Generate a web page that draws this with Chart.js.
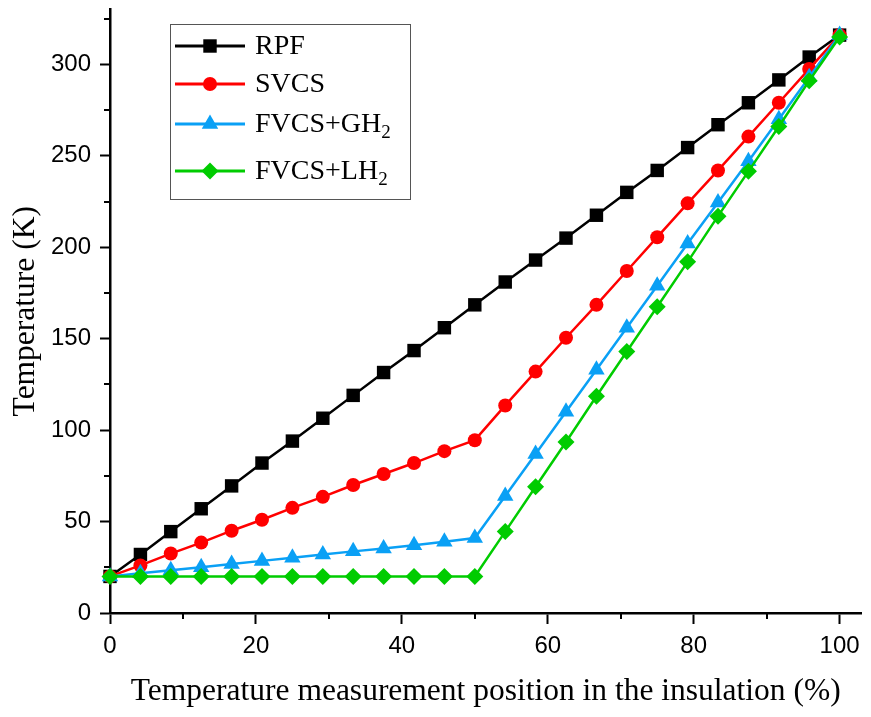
<!DOCTYPE html>
<html>
<head>
<meta charset="utf-8">
<script src="https://cdn.jsdelivr.net/npm/chart.js@4"></script>
<style>
  html, body { margin: 0; padding: 0; background: #fff; }
  #wrap { width: 871px; height: 717px; position: relative; }
</style>
</head>
<body>
<div id="wrap"><canvas id="tempChart"></canvas></div>
<script>
// data
const positions = [0, 4.17, 8.33, 12.5, 16.67, 20.83, 25, 29.17, 33.33, 37.5, 41.67, 45.83,
  50, 54.17, 58.33, 62.5, 66.67, 70.83, 75, 79.17, 83.33, 87.5, 91.67, 95.83, 100];
const seriesNames = ["RPF", "SVCS", "FVCS+GH₂", "FVCS+LH₂"];
const rpf = [20, 32, 44.5, 57, 69.5, 82, 94, 106.5, 119, 131.5, 143.5, 156,
  168.5, 181, 193, 205, 217.5, 230, 242, 254.5, 267, 279, 291.5, 304, 316];
const svcs = [20, 26, 32.5, 38.5, 45, 51, 57.5, 63.5, 70, 76, 82, 88.5,
  94.5, 113.5, 132, 150.5, 168.5, 187, 205.5, 224, 242, 260.5, 279, 297.5, 316];
const fvcsGH2 = [20, 21.7, 23.4, 25, 26.8, 28.5, 30.2, 32, 33.7, 35.3, 37, 39,
  41, 64, 87, 110, 133, 156, 179, 202, 224.5, 247, 270, 293, 316];
const fvcsLH2 = [20, 20, 20, 20, 20, 20, 20, 20, 20, 20, 20, 20,
  20, 44.5, 69, 93.5, 118.5, 143, 167.5, 192, 217, 241.5, 266, 291, 315];
const xTicks = [0, 20, 40, 60, 80, 100];
const yTicks = [0, 50, 100, 150, 200, 250, 300];
const xMinor = [10, 30, 50, 70, 90];
const yMinor = [25, 75, 125, 175, 225, 275, 325];

const colors = ["#000000", "#ff0000", "#0aa0f5", "#00cc00"];
const styles = ["rect", "circle", "triangle", "rectRot"];
const radii = [9.5, 7, 9.5, 8.5];
const allSeries = [rpf, svcs, fvcsGH2, fvcsLH2];

const datasets = allSeries.map((vals, i) => ({
  label: seriesNames[i],
  data: vals.map((v, j) => ({ x: positions[j], y: v })),
  borderColor: colors[i],
  backgroundColor: colors[i],
  borderWidth: 2.5,
  pointStyle: styles[i],
  pointRadius: radii[i],
  pointBorderWidth: 0,
  pointBackgroundColor: colors[i],
  order: 3 - i,
  clip: false,
}));

// minor ticks, like the original plot
const minorTicks = {
  id: "minorTicks",
  afterDraw(chart) {
    const c = chart.ctx;
    const xs = chart.scales.x, ys = chart.scales.y;
    c.save();
    c.strokeStyle = "#000";
    c.lineWidth = 2;
    c.beginPath();
    xMinor.forEach(v => {
      const px = Math.round(xs.getPixelForValue(v));
      c.moveTo(px, chart.chartArea.bottom);
      c.lineTo(px, chart.chartArea.bottom + 6);
    });
    yMinor.forEach(v => {
      const py = Math.round(ys.getPixelForValue(v));
      c.moveTo(chart.chartArea.left, py);
      c.lineTo(chart.chartArea.left - 6, py);
    });
    c.stroke();
    c.restore();
  }
};

// legend box inside the plot, with subscripts
const boxLegend = {
  id: "boxLegend",
  afterDraw(chart) {
    const c = chart.ctx;
    const rows = [46, 84, 124, 171];
    c.save();
    c.strokeStyle = "#555";
    c.lineWidth = 1;
    c.fillStyle = "#fff";
    c.fillRect(170.5, 24.5, 240, 175);
    c.strokeRect(170.5, 24.5, 240, 175);
    chart.data.datasets.forEach((ds, i) => {
      const y = rows[i];
      c.strokeStyle = ds.borderColor;
      c.lineWidth = 3;
      c.beginPath();
      c.moveTo(175, y);
      c.lineTo(245, y);
      c.stroke();
      c.fillStyle = ds.borderColor;
      Chart.helpers.drawPoint(c, { pointStyle: ds.pointStyle, radius: ds.pointRadius, borderWidth: 0 }, 210, y);
      c.fillStyle = "#000";
      c.textBaseline = "middle";
      c.textAlign = "left";
      let label = ds.label;
      let sub = "";
      if (label.endsWith("₂")) { label = label.slice(0, -1); sub = "2"; }
      c.font = "28px 'Liberation Serif'";
      c.fillText(label, 255, y + 1);
      if (sub) {
        const w = c.measureText(label).width;
        c.font = "19px 'Liberation Serif'";
        c.fillText(sub, 255 + w, y + 9);
      }
    });
    c.restore();
  }
};

function noPad(s) {
  s.paddingTop = 0;
  s.paddingBottom = 0;
  s.paddingLeft = 0;
  s.paddingRight = 0;
}

const ctx = document.getElementById("tempChart").getContext("2d");
new Chart(ctx, {
  type: "line",
  data: { datasets: datasets },
  options: {
    responsive: true,
    maintainAspectRatio: false,
    animation: false,
    layout: { padding: { top: 0, right: 4, left: 0, bottom: 0 } },
    plugins: { legend: { display: false }, tooltip: { enabled: false } },
    scales: {
      x: {
        type: "linear",
        min: 0,
        max: 103,
        afterBuildTicks: s => { s.ticks = xTicks.map(v => ({ value: v })); },
        afterFit: s => { s.height = 104; noPad(s); },
        border: { display: true, color: "#000", width: 2.5 },
        grid: { drawOnChartArea: false, drawTicks: true, tickLength: 11, tickWidth: 2, tickColor: "#000" },
        ticks: { color: "#000", padding: 8, font: { family: "'Liberation Sans'", size: 24 } },
        title: {
          display: true,
          text: "Temperature measurement position in the insulation (%)",
          color: "#000",
          font: { family: "'Liberation Serif'", size: 31.5, lineHeight: 1 },
          padding: { top: 0, bottom: 10 },
        },
      },
      y: {
        type: "linear",
        min: 0,
        max: 330,
        afterBuildTicks: s => { s.ticks = yTicks.map(v => ({ value: v })); },
        afterFit: s => { s.width = 110; noPad(s); },
        border: { display: true, color: "#000", width: 2.5 },
        grid: { drawOnChartArea: false, drawTicks: true, tickLength: 10, tickWidth: 2, tickColor: "#000" },
        ticks: { color: "#000", padding: 9, font: { family: "'Liberation Sans'", size: 24 } },
        title: {
          display: true,
          text: "Temperature (K)",
          color: "#000",
          font: { family: "'Liberation Serif'", size: 31.5, lineHeight: 1 },
          padding: { top: 10, bottom: 0 },
        },
      },
    },
  },
  plugins: [minorTicks, boxLegend],
});
</script>
</body>
</html>
